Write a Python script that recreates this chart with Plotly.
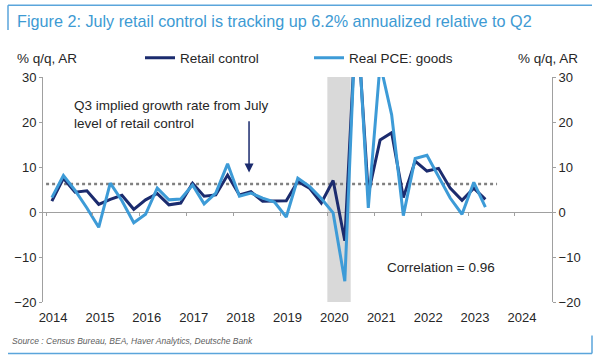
import pandas as pd
import plotly.graph_objects as go

# ---------------- data ----------------
quarters = [f"{y}Q{q}" for y in range(2014, 2024) for q in range(1, 5)][:38]  # 2014Q1 .. 2023Q2

retail_control = [2.4, 7.5, 4.4, 4.7, 1.7, 2.8, 3.7, 0.6,
                  2.7, 4.1, 1.6, 2.0, 6.4, 3.5, 3.8, 8.2,
                  3.8, 4.5, 2.4, 2.5, 2.5, 6.8, 5.3, 2.0,
                  7.0, -6.4, 45.0, 4.0, 16.0, 17.6, 3.2, 11.3,
                  9.1, 9.7, 5.3, 2.6, 5.3, 2.8]

real_pce_goods = [3.2, 8.1, 4.8, 0.9, -3.4, 6.4, 2.5, -2.4,
                  -0.5, 5.3, 2.7, 2.9, 6.0, 1.8, 4.2, 10.7,
                  3.5, 4.2, 3.1, 2.2, -1.1, 7.5, 5.7, 3.0,
                  -0.2, -15.4, 47.0, 0.9, 33.0, 21.6, -0.8, 11.9,
                  12.6, 8.0, 3.1, -0.5, 6.6, 1.1]

implied_q3 = 6.2
implied_quarters = [f"{y}Q{q}" for y in range(2014, 2024) for q in range(1, 5)][:39]  # through 2023Q3

year_ticks = list(range(2014, 2025))
year_labels = [str(y) for y in year_ticks]

recession_start = "2020-01-01"
recession_end = "2020-07-01"

correlation_text = "Correlation = 0.96"

# ---------------- helpers ----------------
def mid_quarter(q):
    p = pd.Period(q, freq="Q")
    return p.start_time + pd.Timedelta(days=45)

x_data = [mid_quarter(q) for q in quarters]
x_implied = [mid_quarter(q) for q in implied_quarters]
x_implied[0] = pd.Timestamp("2014-01-01")
tick_dates = [f"{y}-01-01" for y in year_ticks]

DARK = "#1B2B6E"
LIGHT = "#3D9BD7"
AXIS = "#A0A0A0"
TXT = "#262626"
FONT = "Liberation Sans, Arial, sans-serif"

xrange = ["2013-12-08", "2024-10-16"]
yrange = [-20, 30]

# plot-area pixel geometry
L, R, T, B = 43, 552, 77, 302.5
W, H = 600, 360

def px(xp):
    return (xp - L) / (R - L)

def py(yp):
    return (B - yp) / (B - T)

fig = go.Figure()

fig.add_trace(go.Scatter(
    x=x_implied, y=[implied_q3] * len(x_implied), mode="lines",
    line=dict(color="#808080", width=2.5, dash="dot"),
    showlegend=False, hoverinfo="skip"))

fig.add_trace(go.Scatter(
    x=x_data, y=retail_control, mode="lines", name="Retail control",
    line=dict(color=DARK, width=3)))

fig.add_trace(go.Scatter(
    x=x_data, y=real_pce_goods, mode="lines", name="Real PCE: goods",
    line=dict(color=LIGHT, width=3)))

# invisible trace to activate secondary axes
fig.add_trace(go.Scatter(
    x=[x_data[0]], y=[0], xaxis="x3", yaxis="y2", mode="markers",
    marker=dict(opacity=0), showlegend=False, hoverinfo="skip"))

fig.add_shape(type="rect", xref="x", yref="y",
              x0=recession_start, x1=recession_end, y0=yrange[0], y1=yrange[1],
              fillcolor="#D9D9D9", line=dict(width=0), layer="below")

# frame decorations
BL = "#5AA5DB"
fig.add_shape(type="line", xref="paper", yref="paper",
              x0=px(8), x1=px(592), y0=py(5), y1=py(5), line=dict(color=BL, width=1.5))
fig.add_shape(type="line", xref="paper", yref="paper",
              x0=px(8), x1=px(8), y0=py(5), y1=py(30), line=dict(color=BL, width=1.5))
fig.add_shape(type="line", xref="paper", yref="paper",
              x0=px(8), x1=px(592), y0=py(354), y1=py(354), line=dict(color=BL, width=1.5))
fig.add_shape(type="line", xref="paper", yref="paper",
              x0=px(592), x1=px(592), y0=py(354), y1=py(336), line=dict(color=BL, width=1.5))

ann = []
ann.append(dict(text="Figure 2: July retail control is tracking up 6.2% annualized relative to Q2",
                xref="paper", yref="paper", x=px(15), y=py(21), xanchor="left", yanchor="middle",
                showarrow=False, font=dict(family=FONT, size=16.2, color="#3D9AD3")))
ann.append(dict(text="% q/q, AR", xref="paper", yref="paper", x=px(15), y=py(58),
                xanchor="left", yanchor="middle", showarrow=False,
                font=dict(family=FONT, size=13.5, color=TXT)))
ann.append(dict(text="% q/q, AR", xref="paper", yref="paper", x=px(580), y=py(58),
                xanchor="right", yanchor="middle", showarrow=False,
                font=dict(family=FONT, size=13.5, color=TXT)))
ann.append(dict(text="Q3 implied growth rate from July<br>level of retail control",
                xref="paper", yref="paper", x=px(72), y=py(115), xanchor="left", yanchor="middle",
                align="left", showarrow=False, font=dict(family=FONT, size=13.5, color=TXT)))
ann.append(dict(text="", x="2018-05-01", y=8.8, xref="x", yref="y",
                ax="2018-05-01", ay=20.5, axref="x", ayref="y",
                showarrow=True, arrowhead=2, arrowsize=1.2, arrowwidth=1.5, arrowcolor=DARK))
ann.append(dict(text=correlation_text, xref="paper", yref="paper", x=px(385), y=py(268),
                xanchor="left", yanchor="middle", showarrow=False,
                font=dict(family=FONT, size=13.5, color=TXT)))
ann.append(dict(text="<i>Source : Census Bureau, BEA, Haver Analytics, Deutsche Bank</i>",
                xref="paper", yref="paper", x=px(10), y=py(342), xanchor="left", yanchor="middle",
                showarrow=False, font=dict(family=FONT, size=8.5, color="#606060")))

yaxis_common = dict(range=yrange, dtick=10, ticks="outside", ticklen=3, tickcolor=AXIS,
                    showline=True, linecolor=AXIS, linewidth=1, showgrid=False,
                    tickfont=dict(family=FONT, size=13, color=TXT))

fig.update_layout(
    width=W, height=H,
    margin=dict(l=L, r=W - R, t=T, b=H - B, pad=0),
    paper_bgcolor="white", plot_bgcolor="white",
    showlegend=True,
    legend=dict(orientation="h", x=px(140), y=py(58), xanchor="left", yanchor="middle",
                font=dict(family=FONT, size=13.5, color=TXT), bgcolor="rgba(0,0,0,0)",
                entrywidth=124, entrywidthmode="pixels", traceorder="normal"),
    xaxis=dict(type="date", range=xrange, tickvals=tick_dates, ticktext=year_labels,
               ticks="", showline=False, showgrid=False, zeroline=False,
               ticklabelshift=7, ticklabelstandoff=6,
               tickfont=dict(family=FONT, size=13, color=TXT)),
    xaxis3=dict(type="date", range=xrange, overlaying="x", anchor="free", position=0.4,
                side="bottom", tickvals=tick_dates, ticks="outside", ticklen=3, tickcolor=AXIS,
                showticklabels=False, showline=False, showgrid=False, zeroline=False),
    yaxis=dict(**yaxis_common, zeroline=True, zerolinecolor=AXIS, zerolinewidth=1),
    yaxis2=dict(**yaxis_common, overlaying="y", side="right", anchor="x", zeroline=False),
    annotations=ann,
)

fig.write_html("out.html", config={"displayModeBar": False},
               post_script="document.body.style.margin='0';")
